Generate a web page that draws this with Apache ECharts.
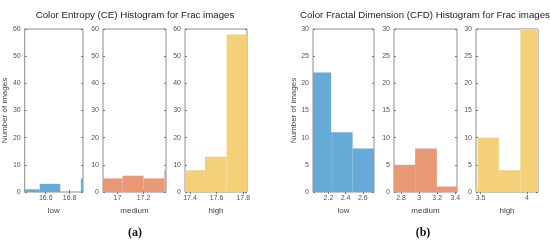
<!DOCTYPE html>
<html>
<head>
<meta charset="utf-8">
<script src="https://cdn.jsdelivr.net/npm/echarts@6/dist/echarts.min.js"></script>
<style>
  html, body { margin: 0; padding: 0; background: #fff; }
  #main { width: 550px; height: 242px; }
</style>
</head>
<body>
<div id="main"></div>
<script>
// bin edges and counts
var ceLowEdges = [16.378, 16.55, 16.722, 16.894, 17.066];
var ceLowCounts = [1, 3, 0, 5];
var ceMedEdges = [16.88, 17.04, 17.2, 17.36, 17.52];
var ceMedCounts = [5, 6, 5, 8];
var ceHighEdges = [17.349, 17.512, 17.675, 17.838];
var ceHighCounts = [8, 13, 58];

var cfdLowEdges = [1.981, 2.231, 2.481, 2.731];
var cfdLowCounts = [22, 11, 8];
var cfdMedEdges = [2.716, 2.956, 3.196, 3.436];
var cfdMedCounts = [5, 8, 1];
var cfdHighEdges = [3.238, 3.468, 3.696, 3.928, 4.158];
var cfdHighCounts = [1, 10, 4, 32];

var xNames = ['low', 'medium', 'high'];
var ceTicks = [[16.6, 16.8], [17, 17.2], [17.4, 17.6, 17.8]];
var cfdTicks = [[2.2, 2.4, 2.6], [2.8, 3, 3.2, 3.4], [3.5, 4]];
var xRanges = [[16.424, 16.912], [16.89, 17.372], [17.3625, 17.828],
               [2.02, 2.73], [2.722, 3.419], [3.45, 4.118]];

var colors = ['#66aad7', '#e89875', '#f4d079'];

var myChart = echarts.init(document.getElementById('main'));

var panels = [
  {edges: ceLowEdges, counts: ceLowCounts, ticks: ceTicks[0], left: 22, width: 61, ymax: 60, step: 10},
  {edges: ceMedEdges, counts: ceMedCounts, ticks: ceTicks[1], left: 103, width: 63, ymax: 60, step: 10},
  {edges: ceHighEdges, counts: ceHighCounts, ticks: ceTicks[2], left: 185, width: 62, ymax: 60, step: 10},
  {edges: cfdLowEdges, counts: cfdLowCounts, ticks: cfdTicks[0], left: 313, width: 61, ymax: 30, step: 5},
  {edges: cfdMedEdges, counts: cfdMedCounts, ticks: cfdTicks[1], left: 394, width: 63, ymax: 30, step: 5},
  {edges: cfdHighEdges, counts: cfdHighCounts, ticks: cfdTicks[2], left: 476, width: 62, ymax: 30, step: 5}
];

var grids = [], xAxes = [], yAxes = [], series = [];
var tickFont = {fontSize: 7, color: '#555', fontFamily: 'Liberation Sans'};

panels.forEach(function (p, i) {
  grids.push({
    left: p.left, width: p.width, top: 29, height: 163,
    show: true, borderColor: '#8c8c8c', borderWidth: 1, backgroundColor: '#fff'
  });
  var xr = xRanges[i];
  // bottom axis with labels
  xAxes.push({
    type: 'value', gridIndex: i, min: xr[0], max: xr[1], position: 'bottom',
    name: xNames[i % 3], nameLocation: 'middle', nameGap: 10,
    nameTextStyle: {fontSize: 8, color: '#444', fontFamily: 'Liberation Sans'},
    axisLine: {show: false}, splitLine: {show: false},
    axisTick: {inside: true, length: 2, lineStyle: {color: '#777'}, customValues: p.ticks},
    axisLabel: Object.assign({margin: 3, customValues: p.ticks,
      formatter: function (v) { return String(+v.toFixed(2)); }}, tickFont)
  });
  // top axis, ticks only
  xAxes.push({
    type: 'value', gridIndex: i, min: xr[0], max: xr[1], position: 'top',
    axisLine: {show: false}, splitLine: {show: false}, axisLabel: {show: false},
    axisTick: {inside: true, length: 2, lineStyle: {color: '#777'}, customValues: p.ticks}
  });
  var yl = {
    type: 'value', gridIndex: i, min: 0, max: p.ymax, interval: p.step, position: 'left',
    axisLine: {show: false}, splitLine: {show: false},
    axisTick: {inside: true, length: 2, lineStyle: {color: '#777'}},
    axisLabel: Object.assign({margin: 4}, tickFont)
  };
  if (i % 3 === 0) {
    yl.name = 'Number of images';
    yl.nameLocation = 'middle';
    yl.nameRotate = 90;
    yl.nameGap = 14;
    yl.nameTextStyle = {fontSize: 8, color: '#444', fontFamily: 'Liberation Sans'};
  }
  yAxes.push(yl);
  yAxes.push({
    type: 'value', gridIndex: i, min: 0, max: p.ymax, interval: p.step, position: 'right',
    axisLine: {show: false}, splitLine: {show: false}, axisLabel: {show: false},
    axisTick: {inside: true, length: 2, lineStyle: {color: '#777'}}
  });

  var data = [];
  for (var k = 0; k < p.counts.length; k++) {
    data.push([p.edges[k], p.edges[k + 1], p.counts[k]]);
  }
  series.push({
    type: 'custom', xAxisIndex: i * 2, yAxisIndex: i * 2,
    data: data,
    renderItem: function (params, api) {
      var a = api.coord([api.value(0), api.value(2)]);
      var b = api.coord([api.value(1), 0]);
      var rect = echarts.graphic.clipRectByRect(
        {x: a[0], y: a[1], width: b[0] - a[0], height: b[1] - a[1]},
        {x: params.coordSys.x, y: params.coordSys.y,
         width: params.coordSys.width, height: params.coordSys.height});
      return rect && {type: 'rect', shape: rect, style: {fill: colors[i % 3]}};
    }
  });
});

var option = {
  animation: false,
  title: [
    {text: 'Color Entropy (CE) Histogram for Frac images', left: 130, top: 5, textAlign: 'center',
     textStyle: {fontSize: 9.7, fontWeight: 'normal', color: '#222', fontFamily: 'Liberation Sans'}},
    {text: 'Color Fractal Dimension (CFD) Histogram for Frac images', left: 420, top: 5, textAlign: 'center',
     textStyle: {fontSize: 9.7, fontWeight: 'normal', color: '#222', fontFamily: 'Liberation Sans'}},
    {text: '(a)', left: 130, top: 222, textAlign: 'center',
     textStyle: {fontSize: 12, fontWeight: 'bold', color: '#111', fontFamily: 'Liberation Serif'}},
    {text: '(b)', left: 418, top: 222, textAlign: 'center',
     textStyle: {fontSize: 12, fontWeight: 'bold', color: '#111', fontFamily: 'Liberation Serif'}}
  ],
  grid: grids,
  xAxis: xAxes,
  yAxis: yAxes,
  series: series
};

myChart.setOption(option);
</script>
</body>
</html>
